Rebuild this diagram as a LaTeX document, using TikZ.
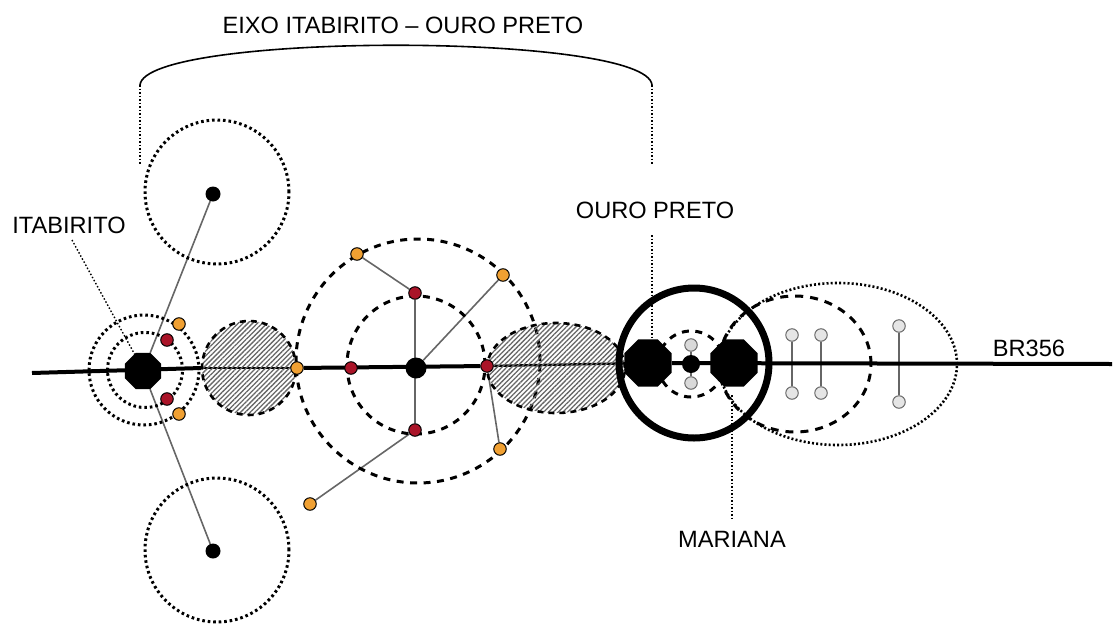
\documentclass[tikz,border=0pt]{standalone}
\usepackage{fontspec}
\setmainfont{Liberation Sans}
\usetikzlibrary{shapes.geometric,patterns.meta,backgrounds}
\definecolor{dotorange}{RGB}{240,160,50}
\definecolor{dotred}{RGB}{170,20,40}
\tikzset{
  lbl/.style={inner sep=0pt,font=\fontsize{23.6}{26}\selectfont},
  ring/.style={circle,draw,inner sep=0pt,minimum size=#1},
  rdot/.style={ring=#1,line width=3pt,dash pattern=on 2.6pt off 2.9pt},
  rdash/.style={ring=#1,line width=3pt,dash pattern=on 7pt off 6.5pt},
  hatch/.style={draw,inner sep=0pt,line width=2.6pt,dash pattern=on 6pt off 5pt,
    pattern={Lines[angle=45,distance=3.4pt,line width=1.3pt]},pattern color=black!60},
  hub/.style={regular polygon,regular polygon sides=8,fill=black,inner sep=0pt,minimum size=#1},
  bdot/.style={circle,fill=black,inner sep=0pt,minimum size=#1},
  site/.style={circle,draw=black,line width=1pt,inner sep=0pt,minimum size=12.5pt,fill=#1},
  stem/.style={draw=black!60,line width=1.6pt},
  road/.style={line width=4pt},
  lead/.style={line width=1.4pt,dash pattern=on 1.5pt off 2pt},
}
\begin{document}
\begin{tikzpicture}[x=1pt,y=-1pt]
      \useasboundingbox (0,0) rectangle (1113,624);
      % rings
      \draw
        (144,370) node[rdot=110pt] (itaouter){}
        (145,370) node[rdot=75pt] (itainner){}
        (217,192) node[rdot=144pt] (north){}
        (217,550) node[rdot=144pt] (south){}
        (418,361) node[rdash=244pt] (midouter){}
        (416,365) node[rdash=138pt] (midinner){}
        (838,364) node[ellipse,draw,inner sep=0pt,minimum width=238pt,minimum height=162pt,line width=2.6pt,dash pattern=on 2pt off 2.2pt] (outerzone){}
        (795,364) node[ellipse,draw,inner sep=0pt,minimum width=152pt,minimum height=136pt,line width=3pt,dash pattern=on 8pt off 7pt] (innerzone){}
        (691,364) node[rdash=66pt] (opring){}
        (249,368) node[hatch,circle,minimum size=94pt] (gapwest){}
        (556,368) node[hatch,ellipse,minimum width=138pt,minimum height=90pt] (gapeast){}
        (694,363) node[ring=150pt,line width=7pt] (opmain){};
      % places
      \draw
        (143,371) node[hub=39pt] (itabirito){}
        (648,363) node[hub=51pt] (ouropreto){}
        (734,363) node[hub=51pt] (mariana){}
        (213,194) node[bdot=15pt] (northc){}
        (213,551) node[bdot=15pt] (southc){}
        (416,368) node[bdot=21pt] (midc){}
        (691,364) node[bdot=18pt] (opc){}
        (167,340) node[site=dotred] (r1){}
        (167,399) node[site=dotred] (r2){}
        (351,368) node[site=dotred] (r3){}
        (415,293) node[site=dotred] (r4){}
        (415,430) node[site=dotred] (r5){}
        (487,366) node[site=dotred] (r6){}
        (179,324) node[site=dotorange] (o1){}
        (179,414) node[site=dotorange] (o2){}
        (297,368) node[site=dotorange] (o3){}
        (357,254) node[site=dotorange] (o4){}
        (503,275) node[site=dotorange] (o5){}
        (500,449) node[site=dotorange] (o6){}
        (310,504) node[site=dotorange] (o7){}
        (691,345) node[site=black!15,draw=black!60] (g1){}
        (691,383) node[site=black!15,draw=black!60] (g2){}
        (792,335) node[site=black!10,draw=black!60] (g3){}
        (792,393) node[site=black!10,draw=black!60] (g4){}
        (821,335) node[site=black!10,draw=black!60] (g5){}
        (821,393) node[site=black!10,draw=black!60] (g6){}
        (899,326) node[site=black!10,draw=black!60] (g7){}
        (899,402) node[site=black!10,draw=black!60] (g8){};
      % labels
      \node[lbl] (axis) at (403,25) {EIXO ITABIRITO – OURO PRETO};
      \node[lbl] (itabiritolbl) at (69,225) {ITABIRITO};
      \node[lbl] (ouropretolbl) at (655,210) {OURO PRETO};
      \node[lbl] (marianalbl) at (732,539) {MARIANA};
      \node[lbl] (brlbl) at (1029,348) {BR356};
      \coordinate (roadw) at (32,373);
      \coordinate (roade) at (1112,364);
      \coordinate (bracew) at (140,85);
      \coordinate (bracee) at (652,85);
      \coordinate (bracewend) at (140,165);
      \coordinate (braceeend) at (652,165);
      \coordinate (opleadend) at (652,345);
      \coordinate (opleadtop) at (652,235);
      \coordinate (itaend) at (135,355);
      \coordinate (itatop) at (72,240);
      \coordinate (marend) at (732,395);
      \coordinate (martop) at (732,520);
      \begin{scope}[on background layer]
        \draw[stem] (northc) to (itabirito);
        \draw[stem] (southc) to (itabirito);
        \draw[stem] (r4) to (o4);
        \draw[stem] (midc) to (o5);
        \draw[stem] (r4) to (r5);
        \draw[stem] (r5) to (o7);
        \draw[stem] (r6) to (o6);
        \draw[stem] (g1) to (g2);
        \draw[stem] (g3) to (g4);
        \draw[stem] (g5) to (g6);
        \draw[stem] (g7) to (g8);
        \draw[road] (roadw) to (gapwest.west);
        \draw[line width=2.6pt] (gapwest.west) to (o3);
        \draw[road] (o3) to (r6);
        \draw[line width=2.4pt] (r6) to (ouropreto);
        \draw[road] (ouropreto) to (roade);
      \end{scope}
      \draw[line width=1.6pt] (bracew) .. controls (145,32) and (647,32) .. (bracee);
      \draw[lead] (bracew) to (bracewend);
      \draw[lead] (bracee) to (braceeend);
      \draw[lead] (opleadtop) to (opleadend);
      \draw[lead] (itatop) to (itaend);
      \draw[lead] (marend) to (martop);
    \end{tikzpicture}
\end{document}
